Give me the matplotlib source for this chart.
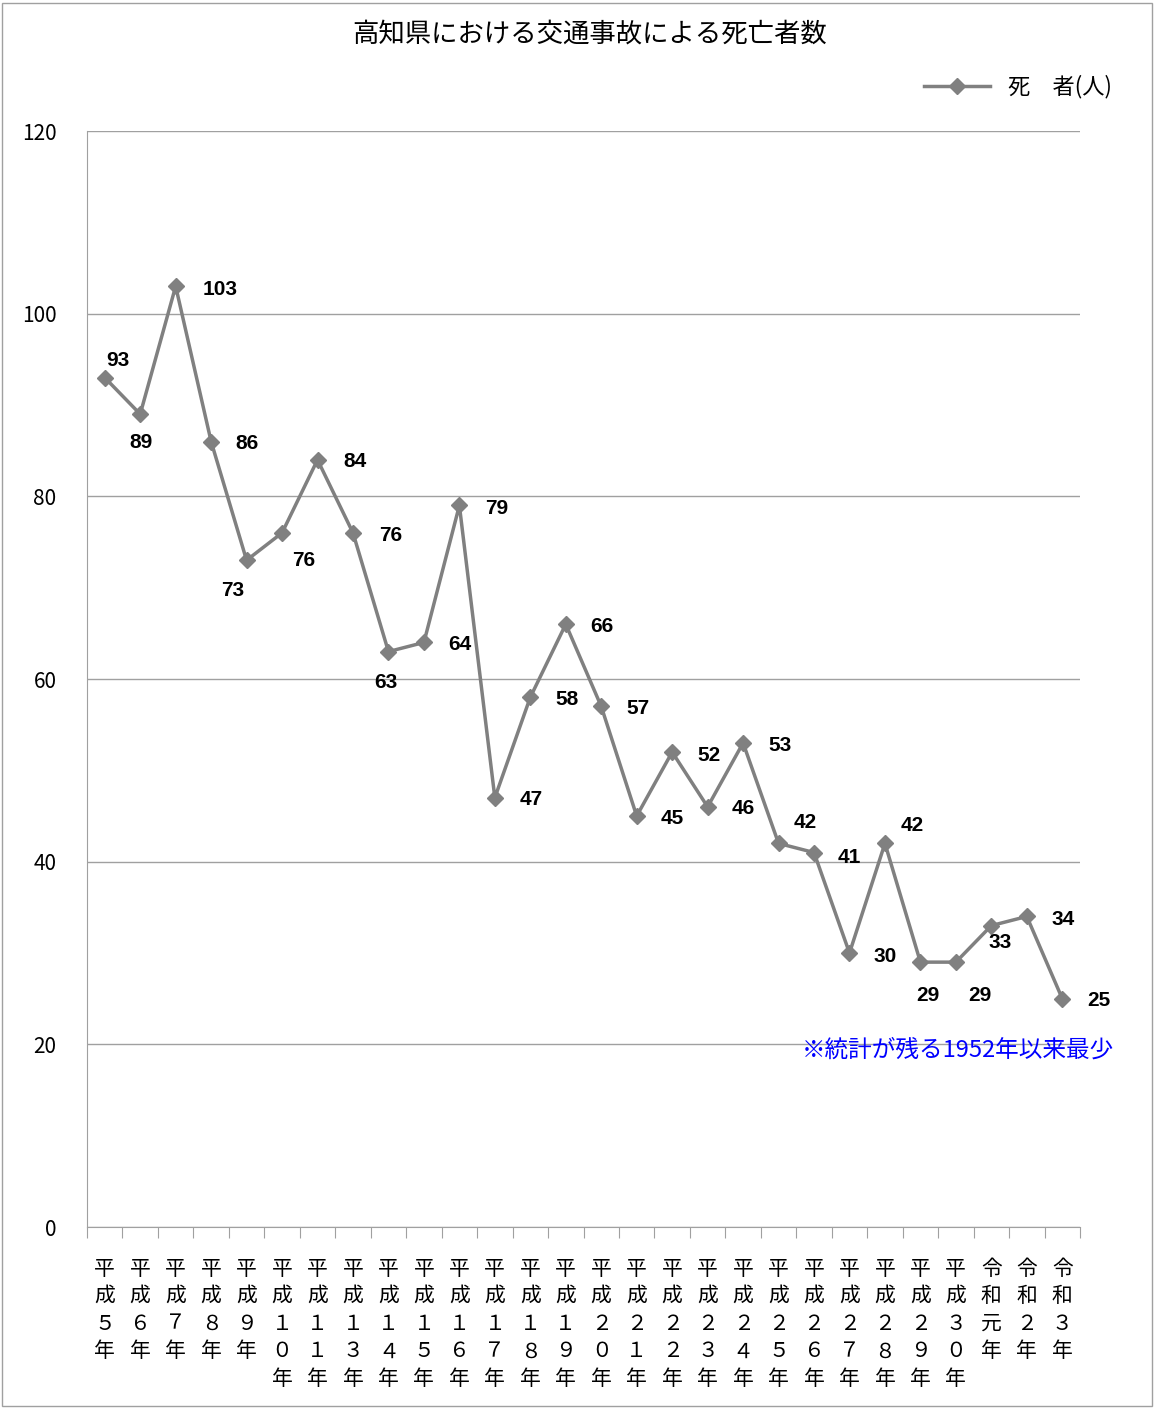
import matplotlib.pyplot as plt
from matplotlib.patches import Rectangle

plt.rcParams['font.family'] = ['Noto Sans CJK JP', 'DejaVu Sans']

# data
labels = ["平成５年", "平成６年", "平成７年", "平成８年", "平成９年", "平成１０年", "平成１１年",
          "平成１３年", "平成１４年", "平成１５年", "平成１６年", "平成１７年", "平成１８年", "平成１９年",
          "平成２０年", "平成２１年", "平成２２年", "平成２３年", "平成２４年", "平成２５年", "平成２６年",
          "平成２７年", "平成２８年", "平成２９年", "平成３０年", "令和元年", "令和２年", "令和３年"]
deaths = [93, 89, 103, 86, 73, 76, 84, 76, 63, 64, 79, 47, 58, 66, 57, 45, 52, 46, 53, 42, 41,
          30, 42, 29, 29, 33, 34, 25]
# label offsets in pixels (dx, dy up)
offs = [(13, 17), (1, -28), (44, -3), (36, -2), (-14, -30), (22, -28), (37, -2), (38, -3),
        (-3, -31), (36, -2), (37, -3), (36, -2), (37, -2), (36, -2), (37, -2), (36, -3),
        (37, -3), (36, -2), (37, -3), (27, 21), (35, -5), (36, -3), (27, 18), (7, -33),
        (24, -33), (9, -17), (36, -3), (37, -2)]

W, H = 1154, 1409
fig = plt.figure(figsize=(W / 100, H / 100), dpi=100)
ax = fig.add_axes([87 / W, 1 - 1227 / H, (1080 - 87) / W, (1227 - 131) / H])
fig.patches.append(Rectangle((0.002, 0.002), 0.996, 0.996, transform=fig.transFigure,
                             fill=False, edgecolor='#a0a0a0', lw=1))

x = list(range(len(deaths)))
ax.plot(x, deaths, color='#808080', lw=2.5, marker='D', ms=8, label='死　者(人)')
for xi, v, (dx, dy) in zip(x, deaths, offs):
    ax.annotate(str(v), (xi, v), xytext=(dx, dy), textcoords='offset pixels',
                ha='center', va='center', fontsize=15, fontweight='bold',
                family=['Liberation Sans', 'DejaVu Sans'])

ax.set_xlim(-0.5, len(deaths) - 0.5)
ax.set_ylim(0, 120)
ax.set_yticks(range(0, 121, 20))
ax.tick_params(axis='y', length=0, labelsize=15, pad=22)
ax.grid(axis='y', color='#a0a0a0', lw=1)
ax.set_axisbelow(True)
ax.set_xticks([i - 0.5 for i in range(len(deaths) + 1)], minor=False)
ax.set_xticklabels([])
ax.tick_params(axis='x', direction='out', length=8, color='#a0a0a0')
ax.set_xticks(x, minor=True)
ax.set_xticklabels(['\n'.join(s) for s in labels], minor=True, fontsize=15, linespacing=1.33, va='top')
ax.tick_params(axis='x', which='minor', length=0, pad=22)
for s in ['top', 'right']:
    ax.spines[s].set_visible(False)
for s in ['left', 'bottom']:
    ax.spines[s].set_color('#a0a0a0')

fig.text(590 / W, 1 - 34 / H, '高知県における交通事故による死亡者数', ha='center', va='center', fontsize=19)
fig.legend(loc='center right', bbox_to_anchor=(1132 / W, 1 - 87 / H), frameon=False,
           fontsize=16, handlelength=3)
fig.text(958 / W, 1 - 1050 / H, '※統計が残る1952年以来最少', ha='center', va='center',
         fontsize=17, color='#0000ff')

fig.savefig('out.png', dpi=100)
